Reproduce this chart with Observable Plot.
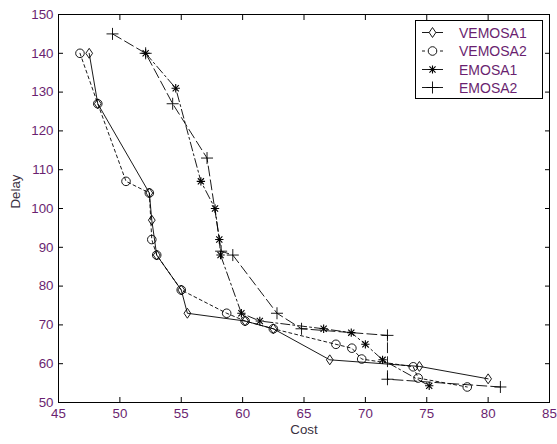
<!DOCTYPE html>
<html>
<head>
<meta charset="utf-8">
<script src="https://cdn.jsdelivr.net/npm/d3@7"></script>
<script src="https://cdn.jsdelivr.net/npm/@observablehq/plot@0.6"></script>
<style>
  html, body { margin: 0; padding: 0; background: #fff; }
  #wrap { position: relative; width: 557px; height: 444px; }
  #legend { position: absolute; left: 0; top: 0; }
</style>
</head>
<body>
<div id="wrap"></div>
<script>
// ---- data ----
const seriesNames = ["VEMOSA1", "VEMOSA2", "EMOSA1", "EMOSA2"];

const vemosa1Cost  = [47.5, 48.2, 52.4, 52.6, 53.0, 55.0, 55.5, 60.2, 62.5, 67.1, 74.4, 80.0];
const vemosa1Delay = [140, 127, 104, 97, 88, 79, 73, 71, 69, 61, 59.3, 56.1];

const vemosa2Cost  = [46.75, 48.2, 50.5, 52.4, 52.6, 53.0, 55.0, 58.7, 60.2, 62.5, 67.6, 68.9, 69.7, 73.9, 74.3, 78.3];
const vemosa2Delay = [140, 127, 107, 104, 92, 88, 79, 73, 71, 69, 65, 64, 61.2, 59.2, 56.3, 54];

const emosa1Cost  = [52.1, 54.55, 56.6, 57.75, 58.1, 58.2, 59.9, 61.4, 66.6, 68.85, 70.0, 71.4, 75.2];
const emosa1Delay = [140, 131, 107, 100, 92, 88, 73, 71, 69, 68, 65, 61, 54.3];

const emosa2Cost  = [49.4, 52.1, 54.3, 57.1, 58.25, 59.2, 62.8, 64.8, 71.8, 71.8, 81.0];
const emosa2Delay = [145, 140, 127, 113, 89, 88, 73, 69, 67.3, 56, 54];

const xTicks = [45, 50, 55, 60, 65, 70, 75, 80, 85];
const yTicks = [50, 60, 70, 80, 90, 100, 110, 120, 130, 140, 150];

// ---- build tables ----
const toRows = (cost, delay) => cost.map((c, i) => ({cost: c, delay: delay[i]}));
const v1 = toRows(vemosa1Cost, vemosa1Delay);
const v2 = toRows(vemosa2Cost, vemosa2Delay);
const e1 = toRows(emosa1Cost, emosa1Delay);
const e2 = toRows(emosa2Cost, emosa2Delay);

const tickColor = "#6a1f70";
const ink = "#000";
const lw = 0.9;
const font = "'Liberation Sans', Arial, sans-serif";

// MATLAB-like diamond: taller than wide
const tallDiamond = {
  draw(context, size) {
    const h = Math.sqrt(size) * 0.56;
    const w = h * 0.68;
    context.moveTo(0, -h);
    context.lineTo(w, 0);
    context.lineTo(0, h);
    context.lineTo(-w, 0);
    context.closePath();
  }
};

const chart = Plot.plot({
  width: 557,
  height: 444,
  marginLeft: 58,
  marginRight: 8,
  marginTop: 14,
  marginBottom: 42,
  x: {domain: [45, 85]},
  y: {domain: [50, 150]},
  style: {fontFamily: font, fontSize: "13.3px", background: "#fff", overflow: "visible"},
  marks: [
    // lines
    Plot.line(v1, {x: "cost", y: "delay", stroke: ink, strokeWidth: lw}),
    Plot.line(v2, {x: "cost", y: "delay", stroke: ink, strokeWidth: lw, strokeDasharray: "3,3"}),
    Plot.line(e1, {x: "cost", y: "delay", stroke: ink, strokeWidth: lw, strokeDasharray: "9,3,2,3"}),
    Plot.line(e2, {x: "cost", y: "delay", stroke: ink, strokeWidth: lw, strokeDasharray: "10,4"}),
    // markers
    Plot.dot(v1, {x: "cost", y: "delay", symbol: tallDiamond, r: 5, stroke: ink, strokeWidth: lw, fill: "none"}),
    Plot.dot(v2, {x: "cost", y: "delay", symbol: "circle", r: 4.3, stroke: ink, strokeWidth: lw, fill: "none"}),
    Plot.dot(e1, {x: "cost", y: "delay", symbol: "plus", r: 2.8, stroke: ink, strokeWidth: 1.1}),
    Plot.dot(e1, {x: "cost", y: "delay", symbol: "times", r: 2.9, stroke: ink, strokeWidth: 1.1}),
    Plot.dot(e2, {x: "cost", y: "delay", symbol: "plus", r: 3.95, stroke: ink, strokeWidth: lw}),
    // frame and inward ticks
    Plot.frame({stroke: ink, strokeWidth: 1}),
    Plot.axisX(xTicks, {anchor: "bottom", tickSize: 0, tickPadding: 6, label: null, fill: tickColor}),
    Plot.axisX(xTicks, {anchor: "bottom", tickSize: 5, dy: -5, tickFormat: () => "", label: null}),
    Plot.axisX(xTicks, {anchor: "top", tickSize: 5, dy: 5, tickFormat: () => "", label: null}),
    Plot.axisY(yTicks, {anchor: "left", tickSize: 0, tickPadding: 5, label: null, fill: tickColor}),
    Plot.axisY(yTicks, {anchor: "left", tickSize: 5, dx: 5, tickFormat: () => "", label: null}),
    Plot.axisY(yTicks, {anchor: "right", tickSize: 5, dx: -5, tickFormat: () => "", label: null}),
    // axis titles
    Plot.text(["Cost"], {frameAnchor: "bottom", dy: 31, text: d => d, fill: "#3a3040", fontSize: 13.3}),
    Plot.text(["Delay"], {frameAnchor: "left", dx: -43, rotate: -90, text: d => d, fill: "#3a3040", fontSize: 13.3})
  ]
});

document.getElementById("wrap").appendChild(chart);

// ---- legend (overlay inside the axes, top-right) ----
const legendStyles = [
  {name: seriesNames[0], dash: null, sym: tallDiamond, size: Math.PI * 25},
  {name: seriesNames[1], dash: "3,3", sym: null, r: 4.3},
  {name: seriesNames[2], dash: null, sym: "asterisk"},
  {name: seriesNames[3], dash: null, sym: d3.symbolPlus, size: 49}
];
const lg = d3.create("svg")
  .attr("id", "legend")
  .attr("width", 557).attr("height", 444)
  .style("font-family", font).style("font-size", "14px");
lg.append("rect")
  .attr("x", 415.5).attr("y", 20.5).attr("width", 127).attr("height", 78)
  .attr("fill", "#fff").attr("stroke", ink).attr("stroke-width", 1);
const rowY = [32.5, 51, 69.5, 87.5];
legendStyles.forEach((s, i) => {
  const y = rowY[i];
  lg.append("line").attr("x1", 422).attr("x2", 443).attr("y1", y).attr("y2", y)
    .attr("stroke", ink).attr("stroke-width", lw).attr("stroke-dasharray", s.dash);
  const g = lg.append("g").attr("transform", `translate(432.5,${y})`);
  if (s.sym === null) {
    g.append("circle").attr("r", s.r).attr("fill", "#fff").attr("stroke", ink).attr("stroke-width", lw);
  } else if (s.sym === "asterisk") {
    g.append("path").attr("d", d3.symbol(d3.symbolPlus, 22)()).attr("fill", "none").attr("stroke", ink).attr("stroke-width", 1.1);
    g.append("path").attr("d", d3.symbol(d3.symbolTimes, 26)()).attr("fill", "none").attr("stroke", ink).attr("stroke-width", 1.1);
  } else {
    g.append("path").attr("d", d3.symbol(s.sym, s.size)()).attr("fill", s.sym === tallDiamond ? "#fff" : "none")
      .attr("stroke", ink).attr("stroke-width", lw);
  }
  lg.append("text").attr("x", 459).attr("y", y).attr("dy", "0.36em")
    .attr("fill", tickColor).text(s.name);
});
document.getElementById("wrap").appendChild(lg.node());
</script>
</body>
</html>
